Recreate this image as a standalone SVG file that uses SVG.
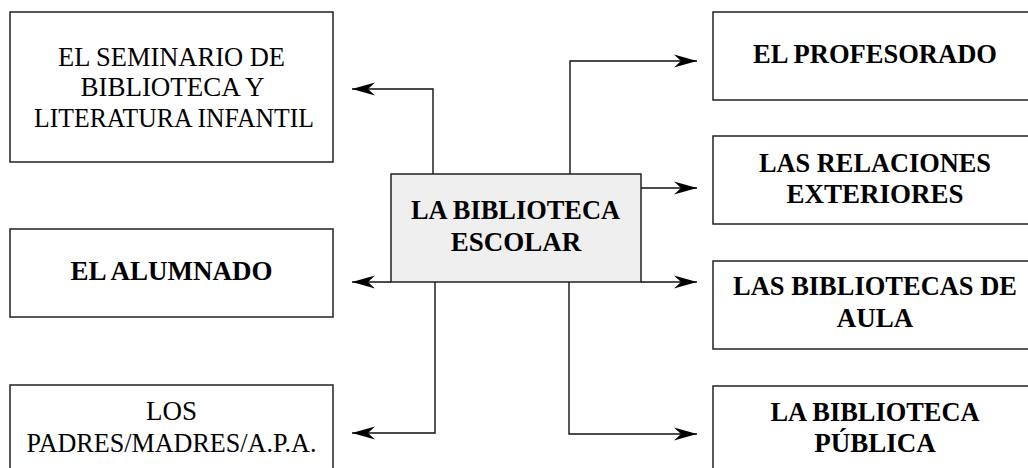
<svg xmlns="http://www.w3.org/2000/svg" width="1028" height="468" viewBox="0 0 1028 468">
<style>
.box{fill:#fff;stroke:#222;stroke-width:1.5}
.center{fill:#efefef;stroke:#222;stroke-width:1.5}
.t{font-family:"Liberation Serif","Times New Roman",serif;font-size:27px;fill:#000;text-anchor:middle}
.b{font-weight:bold}
.c{fill:none;stroke:#111;stroke-width:1.4}
</style>
<defs>
<marker id="ah" markerUnits="userSpaceOnUse" markerWidth="26" markerHeight="16" viewBox="-24 -8 26 16" refX="0" refY="0" orient="auto">
<path d="M0,0 L-23,-6.5 L-16,0 L-23,6.5 Z" fill="#000"/>
</marker>
</defs>
<rect width="1028" height="468" fill="#fff"/>
<g id="connectors">
<path class="c" d="M433,174 V89 H352" marker-end="url(#ah)"/>
<path class="c" d="M570,174 V61 H697" marker-end="url(#ah)"/>
<path class="c" d="M641,188 H697" marker-end="url(#ah)"/>
<path class="c" d="M391,282 H352" marker-end="url(#ah)"/>
<path class="c" d="M641,282 H697" marker-end="url(#ah)"/>
<path class="c" d="M435,282 V433 H352" marker-end="url(#ah)"/>
<path class="c" d="M569,282 V434 H697" marker-end="url(#ah)"/>
</g>
<g id="n-seminario">
<rect class="box" x="10" y="12" width="323" height="150"/>
<text class="t" x="171.5" y="65.5" textLength="227" lengthAdjust="spacingAndGlyphs">EL SEMINARIO DE</text>
<text class="t" x="172.5" y="96">BIBLIOTECA Y</text>
<text class="t" x="174" y="126.5" textLength="280" lengthAdjust="spacingAndGlyphs">LITERATURA INFANTIL</text>
</g>
<g id="n-alumnado">
<rect class="box" x="10" y="229" width="323" height="88"/>
<text class="t b" x="171.5" y="279.5">EL ALUMNADO</text>
</g>
<g id="n-padres">
<rect class="box" x="10" y="385" width="323" height="95"/>
<text class="t" x="171.5" y="420">LOS</text>
<text class="t" x="171.5" y="452" textLength="290" lengthAdjust="spacingAndGlyphs">PADRES/MADRES/A.P.A.</text>
</g>
<g id="n-biblioteca-escolar">
<rect class="center" x="391" y="174" width="250" height="108"/>
<text class="t b" x="515.5" y="219" textLength="209" lengthAdjust="spacingAndGlyphs">LA BIBLIOTECA</text>
<text class="t b" x="516" y="250.5">ESCOLAR</text>
</g>
<g id="n-profesorado">
<rect class="box" x="713" y="12" width="330" height="88"/>
<text class="t b" x="875" y="63" textLength="244" lengthAdjust="spacingAndGlyphs">EL PROFESORADO</text>
</g>
<g id="n-relaciones">
<rect class="box" x="713" y="136" width="330" height="88"/>
<text class="t b" x="875" y="171.5" textLength="232" lengthAdjust="spacingAndGlyphs">LAS RELACIONES</text>
<text class="t b" x="875" y="202.5">EXTERIORES</text>
</g>
<g id="n-aula">
<rect class="box" x="713" y="261" width="330" height="88"/>
<text class="t b" x="875" y="295" textLength="284" lengthAdjust="spacingAndGlyphs">LAS BIBLIOTECAS DE</text>
<text class="t b" x="875" y="327">AULA</text>
</g>
<g id="n-publica">
<rect class="box" x="713" y="386" width="330" height="95"/>
<text class="t b" x="875" y="420.5" textLength="209" lengthAdjust="spacingAndGlyphs">LA BIBLIOTECA</text>
<text class="t b" x="875" y="451.5">PÚBLICA</text>
</g>
</svg>
